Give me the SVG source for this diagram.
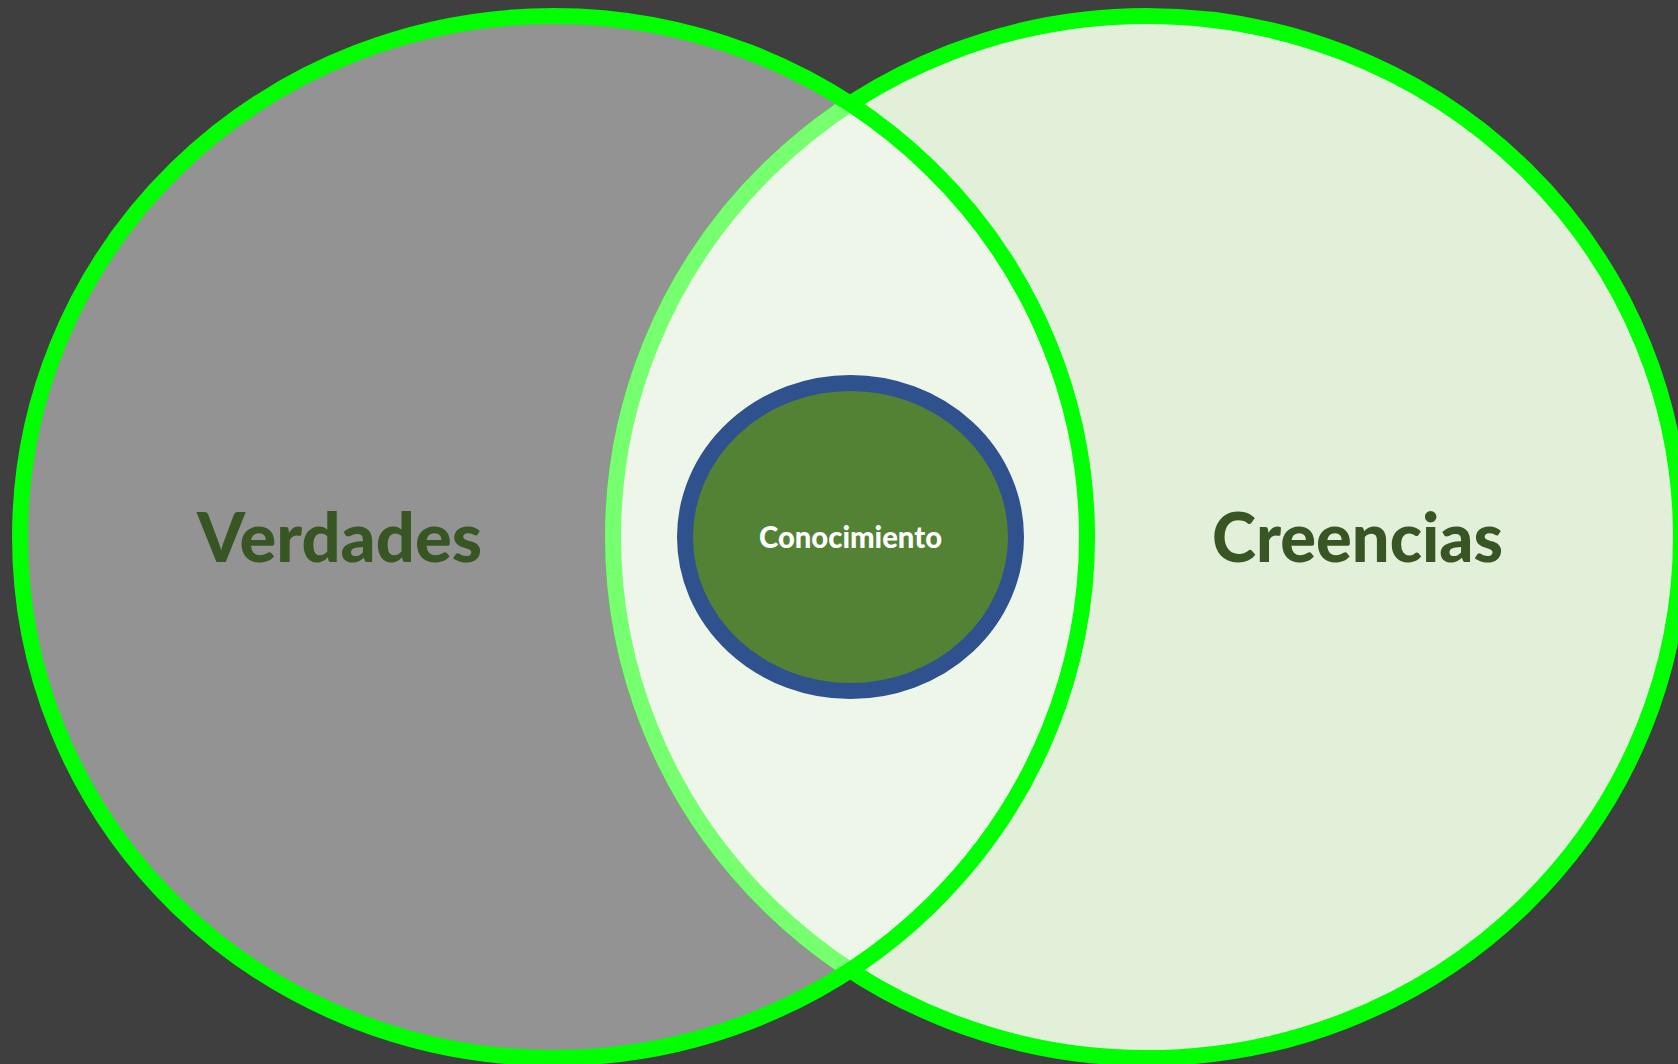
<svg xmlns="http://www.w3.org/2000/svg" width="1678" height="1064" viewBox="0 0 1678 1064">
<style>
.ring{stroke:#00FF00;stroke-width:16;}
.big{font-family:Lato,"Open Sans","Liberation Sans",sans-serif;font-weight:900;font-size:68px;fill:#375623;text-anchor:middle;}
.small{font-family:Lato,"Open Sans","Liberation Sans",sans-serif;font-weight:900;font-size:31px;fill:#FFFFFF;text-anchor:middle;}
</style>
<defs>
<clipPath id="leftClip"><ellipse cx="553.5" cy="537" rx="533.5" ry="521"/></clipPath>
</defs>
<rect x="0" y="0" width="1678" height="1064" fill="#3F3F3F"/>
<g id="verdades">
<ellipse cx="553.5" cy="537" rx="533.5" ry="521" fill="#939393"/>
</g>
<g id="creencias">
<ellipse cx="1147" cy="537" rx="534" ry="521" fill="#E2F0D9" class="ring"/>
</g>
<g id="interseccion" clip-path="url(#leftClip)">
<ellipse cx="1147" cy="537" rx="534" ry="521" fill="#EEF6E9" stroke="#76FF6E" stroke-width="16"/>
</g>
<g id="verdades-borde">
<ellipse cx="553.5" cy="537" rx="533.5" ry="521" fill="none" class="ring"/>
</g>
<text class="big" x="339.5" y="562" textLength="285" lengthAdjust="spacingAndGlyphs">Verdades</text>
<text class="big" x="1357.5" y="562" textLength="291" lengthAdjust="spacingAndGlyphs">Creencias</text>
<g id="conocimiento">
<ellipse cx="850.5" cy="537" rx="165.5" ry="154" fill="#548235" stroke="#2F528F" stroke-width="16"/>
<text class="small" x="850.5" y="548" textLength="183" lengthAdjust="spacingAndGlyphs">Conocimiento</text>
</g>
</svg>
